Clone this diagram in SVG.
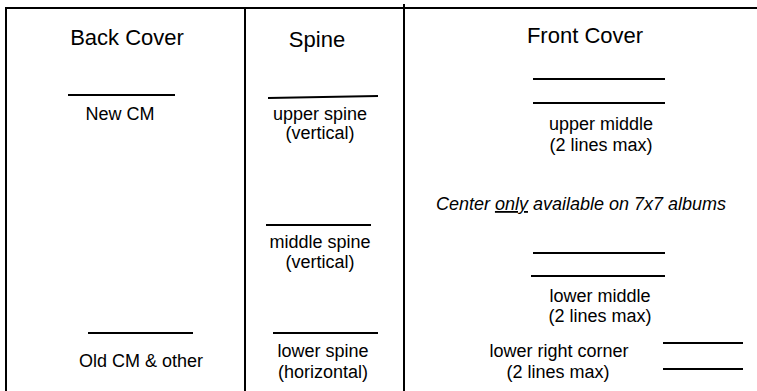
<svg xmlns="http://www.w3.org/2000/svg" width="757" height="391" viewBox="0 0 757 391">
<style>
.frame{stroke:#000;stroke-width:2;fill:none}
.rule{stroke:#000;stroke-width:2;fill:none}
.h{font-family:"Liberation Sans",Arial,sans-serif;font-size:22px;fill:#000;text-anchor:middle}
.t{font-family:"Liberation Sans",Arial,sans-serif;font-size:18px;fill:#000;text-anchor:middle}
.i{font-family:"Liberation Sans",Arial,sans-serif;font-size:18px;font-style:italic;fill:#000;text-anchor:middle}
</style>
<rect width="757" height="391" fill="#fff"/>
<g id="frame">
<line class="frame" x1="6" y1="8" x2="757" y2="8"/>
<line class="frame" x1="6" y1="7" x2="6" y2="391"/>
<line class="frame" x1="245" y1="8" x2="245" y2="391"/>
<line class="frame" x1="404" y1="4" x2="404" y2="391"/>
</g>
<g id="back-cover">
<text class="h" x="127" y="45">Back Cover</text>
<line class="rule" x1="68" y1="95" x2="175" y2="95"/>
<text class="t" x="120" y="120">New CM</text>
<line class="rule" x1="88" y1="333" x2="193" y2="333"/>
<text class="t" x="141" y="367">Old CM &amp; other</text>
</g>
<g id="spine">
<text class="h" x="317" y="47">Spine</text>
<line class="rule" x1="268" y1="98" x2="378" y2="96"/>
<text class="t" x="320" y="120">upper spine</text>
<text class="t" x="320" y="139">(vertical)</text>
<line class="rule" x1="266" y1="225" x2="371" y2="225"/>
<text class="t" x="320" y="248">middle spine</text>
<text class="t" x="320" y="268">(vertical)</text>
<line class="rule" x1="273" y1="333" x2="378" y2="333"/>
<text class="t" x="323" y="357">lower spine</text>
<text class="t" x="323" y="378">(horizontal)</text>
</g>
<g id="front-cover">
<text class="h" x="585" y="43">Front Cover</text>
<line class="rule" x1="533" y1="79" x2="665" y2="79"/>
<line class="rule" x1="533" y1="103" x2="665" y2="103"/>
<text class="t" x="601" y="130">upper middle</text>
<text class="t" x="601" y="151">(2 lines max)</text>
<text class="i" x="581" y="210">Center <tspan text-decoration="underline">only</tspan> available on 7x7 albums</text>
<line class="rule" x1="533" y1="253" x2="665" y2="253"/>
<line class="rule" x1="531" y1="276" x2="665" y2="276"/>
<text class="t" x="600" y="302">lower middle</text>
<text class="t" x="600" y="322">(2 lines max)</text>
<line class="rule" x1="663" y1="343" x2="743" y2="343"/>
<line class="rule" x1="663" y1="369" x2="743" y2="369"/>
<text class="t" x="559" y="357">lower right corner</text>
<text class="t" x="558" y="378">(2 lines max)</text>
</g>
</svg>
